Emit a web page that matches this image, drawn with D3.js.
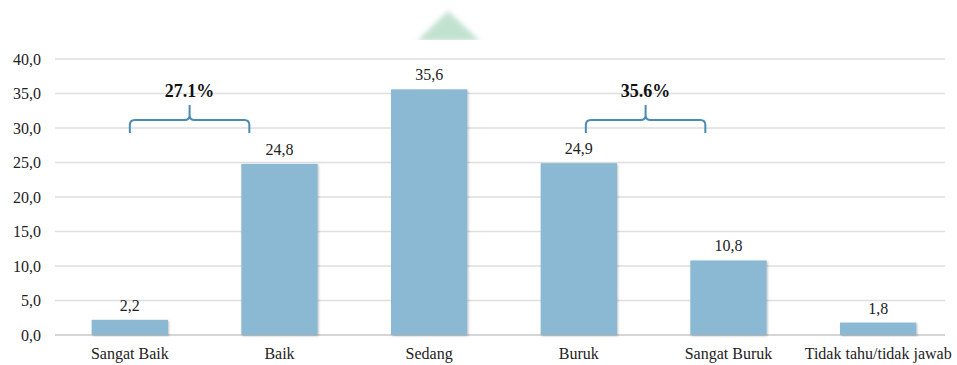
<!DOCTYPE html>
<html>
<head>
<meta charset="utf-8">
<script src="https://cdn.jsdelivr.net/npm/d3@7"></script>
<style>
  body { margin: 0; background: #fff; }
  svg { display: block; }
  svg text { font-family: "Liberation Serif", "Times New Roman", serif; }
</style>
</head>
<body>
<svg id="chart" width="957" height="365"></svg>
<script>
const categories = ["Sangat Baik", "Baik", "Sedang", "Buruk", "Sangat Buruk", "Tidak tahu/tidak jawab"];
const values = [2.2, 24.8, 35.6, 24.9, 10.8, 1.8];
const yTicks = [0, 5, 10, 15, 20, 25, 30, 35, 40];
// grouped totals shown over braces: [first category, last category, label]
const groups = [
  { from: "Sangat Baik", to: "Baik", label: "27.1%" },
  { from: "Buruk", to: "Sangat Buruk", label: "35.6%" }
];

const FONT = "Liberation Serif, Times New Roman, serif";
const svg = d3.select("#chart");
const left = 55;

const x = d3.scaleBand().domain(categories).range([left, 953]).paddingInner(0.49).paddingOuter(0.245);
const y = d3.scaleLinear().domain([0, 40]).range([335, 59]);
const fmt = v => d3.format(".1f")(v).replace(".", ",");

// faint green mark at top
const defs = svg.append("defs");
defs.append("filter").attr("id", "soft").append("feGaussianBlur").attr("stdDeviation", 2.5);
defs.append("filter").attr("id", "shadow").append("feDropShadow")
  .attr("dx", 1).attr("dy", 1).attr("stdDeviation", 0.8).attr("flood-color", "#000").attr("flood-opacity", 0.25);
svg.append("path").attr("d", "M417,41 L448,11 L480,41 Z").attr("fill", "#c2e2d0").attr("filter", "url(#soft)");
svg.append("rect").attr("x", 400).attr("y", 40).attr("width", 100).attr("height", 12).attr("fill", "#fff");

// gridlines
svg.append("g").selectAll("line").data(yTicks).join("line")
  .attr("x1", left).attr("x2", 945)
  .attr("y1", d => y(d)).attr("y2", d => y(d))
  .attr("stroke", d => d === 0 ? "#c8c8c8" : "#dedede").attr("stroke-width", 1.3);

// y axis labels
const yAxis = d3.axisLeft(y).tickValues(yTicks).tickFormat(fmt).tickSize(0).tickPadding(0);
const ga = svg.append("g").attr("transform", "translate(41,0)").call(yAxis)
  .attr("font-family", FONT).attr("font-size", 16);
ga.select(".domain").remove();
ga.selectAll("text").attr("fill", "#222");

// bars
svg.append("g").selectAll("rect").data(values).join("rect")
  .attr("x", (d, i) => x(categories[i]))
  .attr("width", x.bandwidth())
  .attr("y", d => y(d))
  .attr("height", d => y(0) - y(d))
  .attr("fill", "#8bb8d3")
  .attr("filter", "url(#shadow)");

// value labels
svg.append("g").attr("font-family", FONT).selectAll("text").data(values).join("text")
  .attr("x", (d, i) => x(categories[i]) + x.bandwidth() / 2)
  .attr("y", d => y(d) - 9)
  .attr("text-anchor", "middle").attr("font-size", 16).attr("fill", "#222")
  .text(fmt);

// category labels
svg.append("g").attr("font-family", FONT).selectAll("text").data(categories).join("text")
  .attr("x", d => x(d) + x.bandwidth() / 2)
  .attr("y", 359)
  .attr("text-anchor", "middle").attr("font-size", 16).attr("fill", "#222")
  .text(d => d);

// braces with group totals
groups.forEach((g, k) => {
  const x0 = x(g.from) + x.bandwidth() / 2 + (k ? 7 : 0);
  const x1 = x(g.to) + (k ? 15 : 8);
  const xm = (x0 + x1) / 2;
  const yb = 133, yh = 120, yt = 105, r = 5;
  const p = `M${x0},${yb} L${x0},${yh + r} Q${x0},${yh} ${x0 + r},${yh}
    L${xm - r},${yh} Q${xm},${yh} ${xm},${yh - r} L${xm},${yt}
    M${xm},${yh - r} Q${xm},${yh} ${xm + r},${yh}
    L${x1 - r},${yh} Q${x1},${yh} ${x1},${yh + r} L${x1},${yb}`;
  svg.append("path").attr("d", p).attr("fill", "none").attr("stroke", "#4a8bb3").attr("stroke-width", 2);
  svg.append("text").attr("x", xm).attr("y", 97).attr("text-anchor", "middle")
    .attr("font-family", FONT).attr("font-size", 18).attr("font-weight", "bold").attr("fill", "#111").text(g.label);
});
</script>
</body>
</html>
